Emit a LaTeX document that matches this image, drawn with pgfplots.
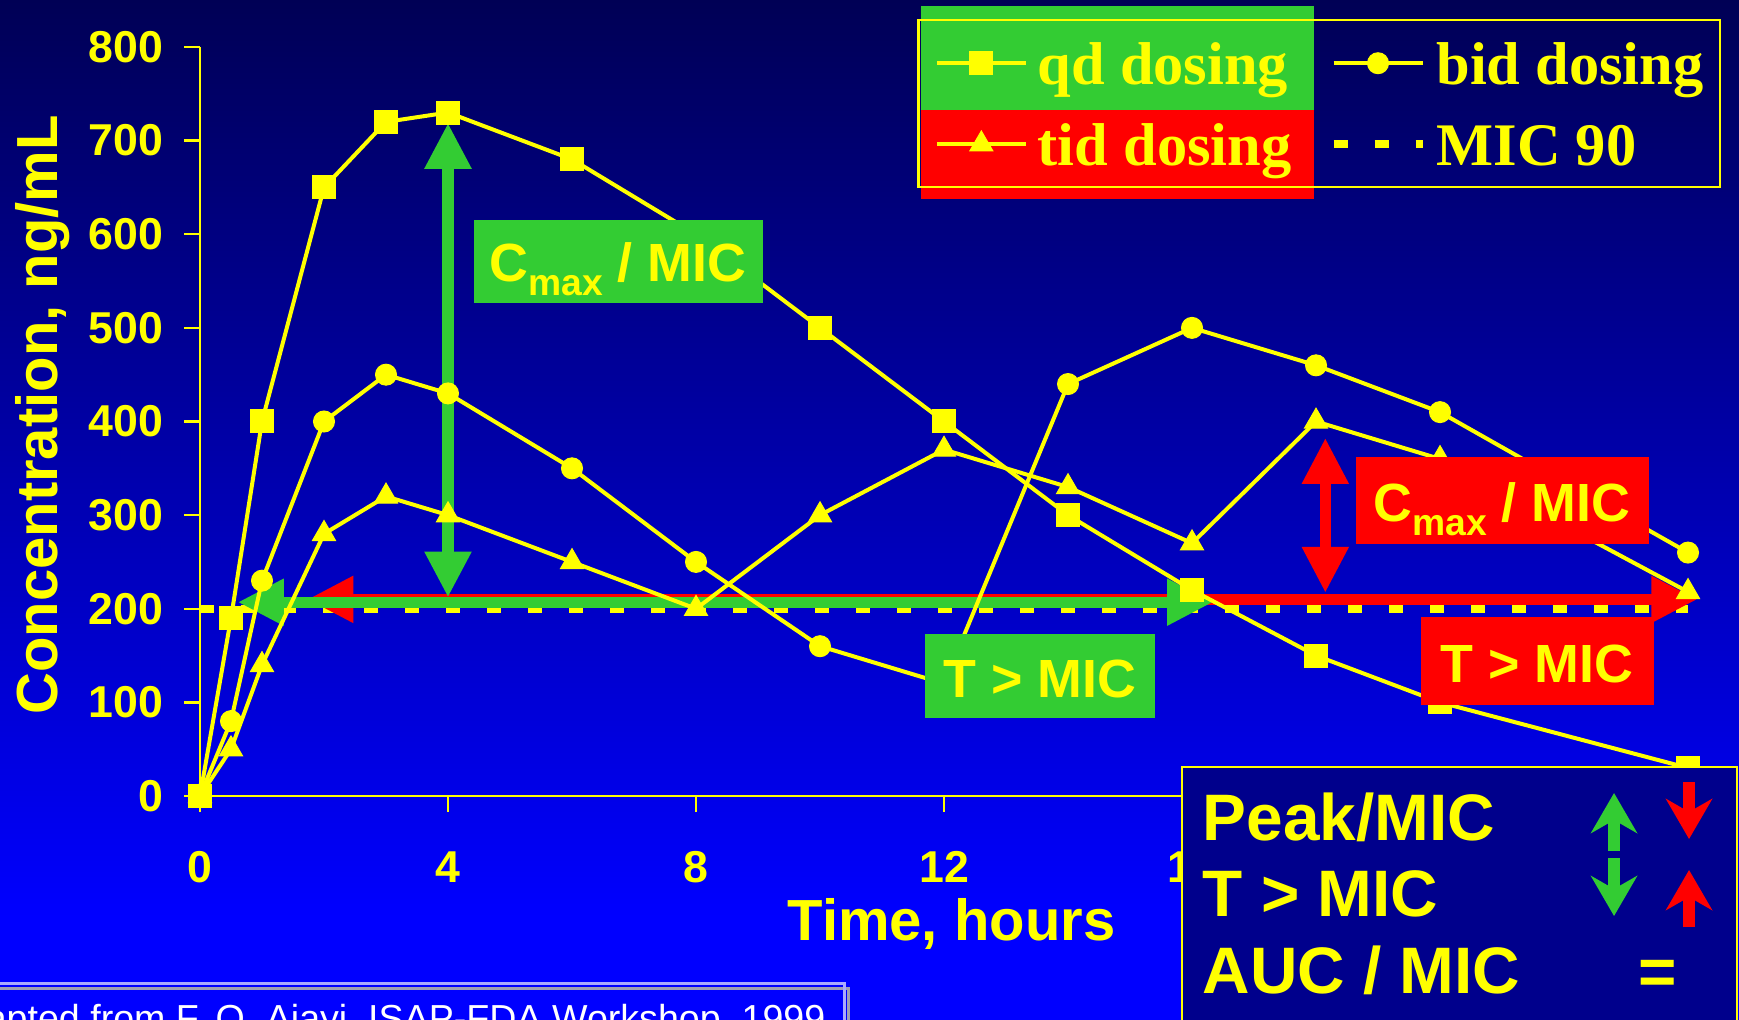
\documentclass[border=0pt]{standalone}
\usepackage{fontspec}
\usepackage{pgfplots}
\pgfplotsset{compat=1.18}
\usetikzlibrary{arrows.meta}
\setmainfont{Liberation Sans}
\newfontfamily\serifb{Liberation Serif}

\definecolor{bgtop}{RGB}{0,0,85}
\definecolor{bgbot}{RGB}{0,0,255}
\definecolor{ylw}{RGB}{255,255,0}
\definecolor{cgreen}{RGB}{51,204,51}
\definecolor{cred}{RGB}{255,0,0}
\definecolor{navy}{RGB}{0,0,140}
\definecolor{frameA}{RGB}{170,170,255}
\definecolor{frameB}{RGB}{160,160,180}

\pgfdeclareverticalshading{slidebg}{100bp}{color(0bp)=(bgbot); color(25bp)=(bgbot); color(30bp)=(bgbot); color(75bp)=(bgtop); color(100bp)=(bgtop)}

\newcommand\tickfont{\fontsize{12.7pt}{14pt}\selectfont\bfseries}
\newcommand\labfont{\fontsize{16.5pt}{19pt}\selectfont\bfseries}
\newcommand\legfont{\serifb\fontsize{17.2pt}{20pt}\selectfont\bfseries}
\newcommand\boxfont{\fontsize{15.3pt}{18pt}\selectfont\bfseries}
\newcommand\subfont{\fontsize{10.6pt}{12pt}\selectfont\bfseries}
\newcommand\sumfont{\fontsize{18.7pt}{22pt}\selectfont\bfseries}
\newcommand\capfont{\fontsize{10.7pt}{12pt}\selectfont}
\newcommand\cmax{C\raisebox{-1.4mm}{\subfont max} / MIC}

\tikzset{
  bigtip/.style={{Triangle[length=4.6mm,width=4.4mm]}-{Triangle[length=4.6mm,width=4.4mm]}},
  trend/.style={line width=1.2mm, -{Stealth[length=4mm,width=4.6mm,inset=1.3mm]}},
}

\begin{document}
\begin{tikzpicture}
\useasboundingbox (0,0) rectangle (173.9mm,101.9mm);
\clip (0,0) rectangle (173.9mm,101.9mm);

% slide background and the coloured bands behind the legend
\begin{scope}[shift={(0,101.9mm)}, x=0.1mm, y=-0.1mm]
  \shade[shading=slidebg] (0,0) rectangle (1739,1019);
  \fill[cgreen] (921,6) rectangle (1314,110);
  \fill[cred] (921,110) rectangle (1314,199);
\end{scope}

\begin{axis}[
  at={(20mm,22.3mm)}, anchor=south west,
  scale only axis, width=148.8mm, height=74.9mm,
  xmin=0, xmax=24, ymin=0, ymax=800,
  axis x line*=bottom, axis y line*=left,
  axis line style={ylw, line width=0.28mm},
  xtick={0,4,...,24}, ytick={0,100,...,800},
  tick align=outside, major tick length=1.6mm,
  tick style={ylw, line width=0.25mm},
  ticklabel style={text=ylw, font=\tickfont},
  /pgf/number format/assume math mode=true,
  xticklabel style={anchor=base, inner sep=0pt, yshift=-7.0mm},
  yticklabel style={anchor=east, inner sep=0pt, xshift=-2.0mm},
  xlabel={Time, hours}, ylabel={Concentration, ng/mL},
  label style={text=ylw, font=\labfont},
  xlabel style={at={(axis description cs:0.505,-0.1923)}, anchor=base},
  ylabel style={at={(axis description cs:-0.0961,0.5087)}, anchor=base},
  clip=false,
  legend columns=2,
  legend style={
    at={(axis description cs:0.4819,1.0374)}, anchor=north west,
    draw=ylw, line width=0.25mm, fill=none,
    text=ylw, font=\legfont,
    inner xsep=1.65mm, inner ysep=0.25mm, row sep=0pt,
    nodes={inner sep=0pt, text height=6.15mm, text depth=1.95mm},
    /tikz/every odd column/.append style={column sep=1.0mm},
    /tikz/every even column/.append style={column sep=3.8mm},
  },
  legend cell align=left,
  legend image code/.code={\draw[mark repeat=2, mark phase=2, #1] plot coordinates {(0mm,0mm) (4.45mm,0mm) (8.9mm,0mm)};},
  every axis plot/.append style={ylw, line width=0.4mm},
]

% MIC 90 level
\addplot[ylw, line width=0.8mm, dash pattern=on 1.4mm off 2.7mm, forget plot] coordinates {(0,200) (24,200)};

% T > MIC and Cmax / MIC spans
\draw[cred, line width=1.1mm, bigtip] (axis cs:1.73,210) -- (axis cs:24.15,210);
\draw[cred, line width=1.1mm, bigtip] (axis cs:18.15,217) -- (axis cs:18.15,382.5);
\draw[cgreen, line width=1.1mm, bigtip] (axis cs:0.61,207) -- (axis cs:16.34,207);
\draw[cgreen, line width=1.2mm, bigtip] (axis cs:4,212) -- (axis cs:4,719);

% qd dosing
\addplot[mark=square*, mark size=1.15mm, mark options={solid, fill=ylw, draw=ylw, line width=0.1mm}]
  coordinates {(0,0) (0.5,190) (1,400) (2,650) (3,720) (4,730) (6,680) (8,600) (10,500)
               (12,400) (14,300) (16,220) (18,150) (20,100) (24,30)};
\addlegendentry{qd dosing}

% bid dosing
\addplot[mark=*, mark size=1.05mm, mark options={solid, fill=ylw, draw=ylw, line width=0.1mm}]
  coordinates {(0,0) (0.5,80) (1,230) (2,400) (3,450) (4,430) (6,350) (8,250) (10,160)
               (12,120) (14,440) (16,500) (18,460) (20,410) (24,260)};
\addlegendentry{bid dosing}

% tid dosing
\addplot[mark=triangle*, mark size=1.33mm, mark options={solid, fill=ylw, draw=ylw, line width=0.1mm}]
  coordinates {(0,0) (0.5,50) (1,140) (2,280) (3,320) (4,300) (6,250) (8,200) (10,300)
               (12,370) (14,330) (16,270) (18,400) (20,360) (24,218)};
\addlegendentry{tid dosing}

\addlegendimage{ylw, line width=0.8mm, dash pattern=on 1.4mm off 2.7mm}
\addlegendentry{MIC 90}
\end{axis}

% labels of the spans, summary panel and source note
\begin{scope}[shift={(0,101.9mm)}, x=0.1mm, y=-0.1mm]
  \fill[cgreen] (474,220) rectangle (763,303);
  \node[anchor=base, inner sep=0pt, text=ylw, font=\boxfont] at (618,282) {\cmax};
  \fill[cred] (1356,457) rectangle (1649,544);
  \node[anchor=base, inner sep=0pt, text=ylw, font=\boxfont] at (1502,521) {\cmax};
  \fill[cgreen] (925,634) rectangle (1155,718);
  \node[anchor=base, inner sep=0pt, text=ylw, font=\boxfont] at (1040,697) {T > MIC};
  \fill[cred] (1421,617) rectangle (1654,705);
  \node[anchor=base, inner sep=0pt, text=ylw, font=\boxfont] at (1537,682) {T > MIC};

  \filldraw[fill=navy, draw=ylw, line width=0.22mm] (1182,767) rectangle (1737,1060);
  \node[anchor=base west, inner sep=0pt, text=ylw, font=\sumfont] at (1202,840) {Peak/MIC};
  \node[anchor=base west, inner sep=0pt, text=ylw, font=\sumfont] at (1202,916) {T > MIC};
  \node[anchor=base west, inner sep=0pt, text=ylw, font=\sumfont] at (1202,993) {AUC / MIC};
  \draw[cgreen, trend] (1614,851) -- (1614,793);
  \draw[cred, trend] (1689,782) -- (1689,839);
  \draw[cgreen, trend] (1614,858) -- (1614,916);
  \draw[cred, trend] (1689,927) -- (1689,870);
  \node[inner sep=0pt, text=ylw, font=\sumfont] at (1658,977) {=};

  \draw[frameB, line width=0.3mm] (-20,988) -- (848,988) -- (848,1100);
  \draw[frameA, line width=0.3mm] (-20,983) -- (844,983) -- (844,1100);
  \node[anchor=base east, inner sep=0pt, text=white, font=\capfont] at (826,1031)
    {Adapted from F. O. Ajayi, ISAP-FDA Workshop, 1999};
\end{scope}
\end{tikzpicture}
\end{document}
